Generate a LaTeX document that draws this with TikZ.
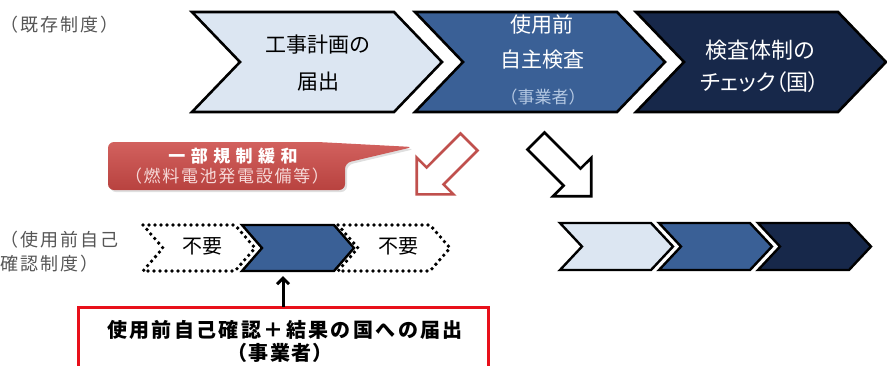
\documentclass[tikz,border=0pt]{standalone}
\usepackage{fontspec}
\setmainfont{Noto Sans CJK JP}
\usetikzlibrary{arrows.meta,shadows}
\definecolor{lightblue}{HTML}{DCE6F2}
\definecolor{midblue}{HTML}{3A6096}
\definecolor{darkblue}{HTML}{17284A}
\definecolor{calloutred}{HTML}{C0504D}
\definecolor{calloutlight}{HTML}{D2615E}
\definecolor{calloutdark}{HTML}{B8423F}
\definecolor{pinktext}{HTML}{F6D9D8}
\definecolor{subblue}{HTML}{B4C8E2}
\definecolor{labelgray}{HTML}{555555}
\definecolor{boxred}{HTML}{E8101A}
\newcommand\chev[6]{\path[#6] (#1,#2) -- ++({#3-#5},0) -- ++(#5,{#4/2}) -- ++({-#5},{#4/2}) -- ++({-(#3-#5)},0) -- ++(#5,{-#4/2}) -- cycle;}
\tikzset{
  chevbox/.style={draw=black,line width=2.6pt,line join=miter},
  dotchev/.style={draw=black,line width=3.8pt,dash pattern=on 0pt off 6pt,line cap=round,line join=round},
  bigtxt/.style={inner sep=0pt,font=\fontsize{21}{24}\selectfont},
  lbltxt/.style={inner sep=0pt,anchor=west,text=labelgray,font=\fontsize{18}{20}\selectfont\addfontfeature{LetterSpace=11}},
  blockarrow/.style={line width=2.6pt,line join=miter,fill=white},
  uparrow/.style={line width=3pt,-{Straight Barb[length=6pt,width=12pt,line width=3pt]}},
  callout/.style={top color=calloutlight,bottom color=calloutdark,rounded corners=6pt,
     drop shadow={shadow xshift=2pt,shadow yshift=-2pt,opacity=0.25}},
}
\begin{document}
\begin{tikzpicture}[x=1pt,y=-1pt]
\useasboundingbox (0,0) rectangle (887,365);
% ---------------- existing system ----------------
\node[lbltxt] (lab1) at (0,25) {（既存制度）};
\chev{192}{12}{250}{100}{48}{chevbox,fill=lightblue}
\chev{415}{12}{250}{100}{48}{chevbox,fill=midblue}
\chev{636}{12}{250}{100}{48}{chevbox,fill=darkblue}
\node[bigtxt] (c1a) at (318,45) {工事計画の};
\node[bigtxt] (c1b) at (318,82) {届出};
\node[bigtxt,text=white] (c2a) at (542,25) {使用前};
\node[bigtxt,text=white] (c2b) at (542,60) {自主検査};
\node[inner sep=0pt,text=subblue,font=\fontsize{17}{19}\selectfont] (c2c) at (543,97) {（事業者）};
\node[bigtxt,text=white,font=\fontsize{22}{24}\selectfont] (c3a) at (760,50) {検査体制の};
\node[bigtxt,text=white,font=\fontsize{22}{24}\selectfont\addfontfeature{RawFeature=+palt}] (c3b) at (760,82) {チェック（国）};
% ---------------- callout ----------------
\path[callout] (108,142) -- (318,142) -- (413,147) -- (345,163) -- (345,190) -- (108,190) -- cycle;
\node[inner sep=0pt,text=white,font=\fontsize{17}{20}\selectfont\bfseries\addfontfeature{LetterSpace=32}] (co1) at (233,156) {一部規制緩和};
\node[inner sep=0pt,text=pinktext,font=\fontsize{17}{20}\selectfont\addfontfeature{LetterSpace=10}] (co2) at (227,176) {（燃料電池発電設備等）};
% ---------------- block arrows ----------------
\draw[blockarrow,draw=calloutred] (460.5,133.5) -- (426.6,167.5) -- (416.7,157.6) -- (416.7,194.3) -- (453.4,194.3) -- (443.5,184.4) -- (477.5,150.5) -- cycle;
\draw[blockarrow,draw=black] (544.5,132.5) -- (580.5,168.6) -- (591.2,158.0) -- (591.2,196.2) -- (553.0,196.2) -- (563.6,185.6) -- (527.5,149.5) -- cycle;
% ---------------- self check system ----------------
\node[lbltxt] (lab2) at (0,240) {（使用前自己};
\node[lbltxt] (lab3) at (0,264) {確認制度）};
\chev{143}{225}{112}{46}{20}{dotchev}
\chev{242}{225}{112}{46}{20}{chevbox,line width=2.4pt,fill=midblue}
\chev{338}{225}{112}{46}{20}{dotchev}
\node[inner sep=0pt,font=\fontsize{20}{22}\selectfont] (nu1) at (202,246) {不要};
\node[inner sep=0pt,font=\fontsize{20}{22}\selectfont] (nu2) at (398,246) {不要};
\coordinate (bluebot) at (283,271);
% result chevrons
\chev{560}{223}{113}{47}{22}{chevbox,line width=2.4pt,fill=lightblue}
\chev{659}{223}{113}{47}{22}{chevbox,line width=2.4pt,fill=midblue}
\chev{758}{223}{113}{47}{22}{chevbox,line width=2.4pt,fill=darkblue}
% ---------------- red box ----------------
\draw[boxred,line width=3pt] (78,370) -- (78,307) -- (488,307) -- (488,370);
\coordinate (boxtop) at (283,307);
\node[inner sep=0pt,font=\fontsize{20}{22}\selectfont\bfseries\addfontfeature{LetterSpace=12}] (rb1) at (285,330) {使用前自己確認＋結果の国への届出};
\node[inner sep=0pt,font=\fontsize{20}{22}\selectfont\bfseries\addfontfeature{LetterSpace=6}] (rb2) at (280,353) {（事業者）};
\draw[uparrow] (boxtop) -- ([yshift=-5pt]bluebot);
\end{tikzpicture}
\end{document}
